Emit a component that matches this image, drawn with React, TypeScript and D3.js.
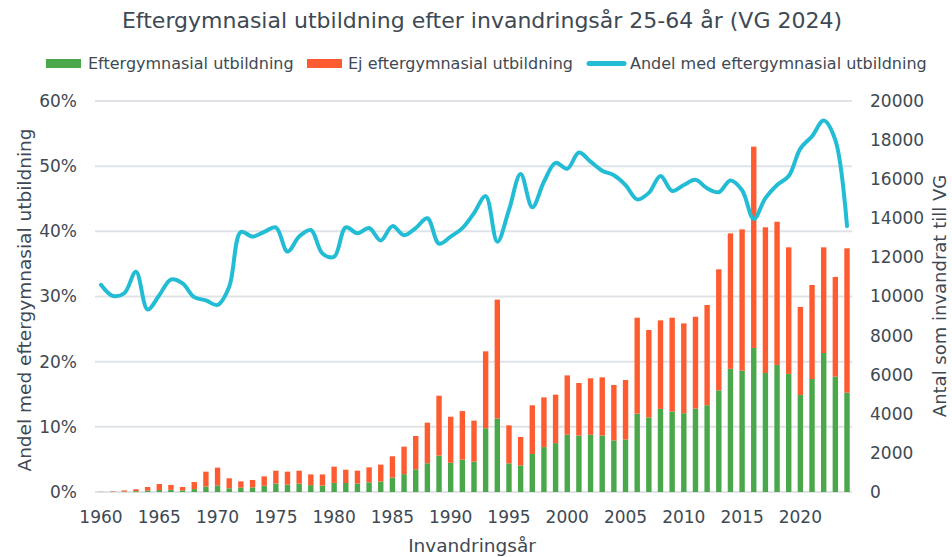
import React, { useEffect, useRef } from "react";
import * as d3 from "d3";

const years = d3.range(1960, 2025);

// antal med eftergymnasial utbildning
const eftergymnasial = [
  3, 9, 24, 45, 70, 100, 110, 80, 150, 280, 340, 190, 220, 235, 320, 435, 375,
  425, 350, 325, 465, 460, 430, 495, 535, 740, 915, 1160, 1470, 1860, 1495,
  1655, 1555, 3260, 3760, 1465, 1360, 1945, 2295, 2500, 2935, 2890, 2930, 2885,
  2640, 2685, 4005, 3815, 4250, 4115, 4030, 4270, 4440, 5200, 6300, 6210, 7370,
  6085, 6500, 6040, 4965, 5780, 7110, 5900, 5080,
];

// antal utan eftergymnasial utbildning
const ejEftergymnasial = [
  7, 21, 56, 95, 185, 310, 250, 175, 360, 760, 905, 510, 325, 380, 480, 655, 665,
  665, 550, 575, 830, 680, 660, 765, 865, 1085, 1405, 1705, 2075, 3065, 2355,
  2485, 2095, 3935, 6080, 1945, 1455, 2490, 2545, 2480, 3030, 2685, 2885, 2980,
  2835, 3045, 4910, 4470, 4530, 4800, 4595, 4695, 5125, 6190, 6930, 7225, 10295,
  7455, 7325, 6475, 4500, 4810, 5405, 5100, 7385,
];

// andel med eftergymnasial utbildning (%)
const andel = [
  31.8, 30.1, 30.5, 33.8, 28.0, 30.2, 32.6, 32.0, 29.9, 29.4, 28.7, 31.5, 39.9,
  39.2, 39.9, 40.6, 36.9, 39.2, 40.2, 36.6, 36.1, 40.6, 39.7, 40.5, 38.6, 40.8,
  39.4, 40.5, 42.0, 38.1, 39.2, 40.5, 42.8, 45.4, 38.4, 43.3, 48.8, 43.7, 47.6,
  50.5, 49.6, 52.1, 50.7, 49.3, 48.6, 47.1, 44.9, 45.9, 48.5, 46.2, 47.1, 47.9,
  46.6, 46.0, 47.8, 46.3, 41.9, 45.1, 47.1, 48.5, 52.7, 54.6, 57.0, 54.0, 40.8,
];

const leftTicks = [0, 0.1, 0.2, 0.3, 0.4, 0.5, 0.6];
const rightTicks = [0, 2000, 4000, 6000, 8000, 10000, 12000, 14000, 16000, 18000, 20000];
const xTicks = [1960, 1965, 1970, 1975, 1980, 1985, 1990, 1995, 2000, 2005, 2010, 2015, 2020];

const GREEN = "#4aa74a";
const ORANGE = "#ff5b31";
const CYAN = "#22bcd5";
const TEXT = "#3e4953";
const GRID = "#dfe3e8";
const FONT = "'DejaVu Sans', Verdana, sans-serif";

const App = () => {
  const svgRef = useRef<SVGSVGElement>(null);

  useEffect(() => {
    const svg = d3.select(svgRef.current);
    svg.selectAll("*").remove();

    const plot = { left: 95, right: 852, top: 101, bottom: 492 };

    const x = d3.scaleLinear().domain([1960, 2024]).range([101, 847]);
    const yLeft = d3.scaleLinear().domain([0, 0.6]).range([plot.bottom, plot.top]);
    const yRight = d3.scaleLinear().domain([0, 20000]).range([plot.bottom, plot.top]);

    // gridlines
    svg
      .append("g")
      .selectAll("line")
      .data(leftTicks)
      .join("line")
      .attr("x1", plot.left)
      .attr("x2", plot.right)
      .attr("y1", (d) => yLeft(d))
      .attr("y2", (d) => yLeft(d))
      .attr("stroke", GRID)
      .attr("stroke-width", 2);

    // stacked bars
    const rows = years.map((yr, i) => ({
      year: yr,
      eft: eftergymnasial[i],
      ej: ejEftergymnasial[i],
    }));
    const stack = d3.stack<any>().keys(["eft", "ej"])(rows);
    const colors = [GREEN, ORANGE];
    const barW = 5.4;

    svg
      .append("g")
      .selectAll("g")
      .data(stack)
      .join("g")
      .attr("fill", (_, i) => colors[i])
      .selectAll("rect")
      .data((s) => s)
      .join("rect")
      .attr("x", (d: any) => x(d.data.year) - barW / 2)
      .attr("y", (d) => yRight(d[1]))
      .attr("width", barW)
      .attr("height", (d) => Math.max(0, yRight(d[0]) - yRight(d[1])));

    // share line
    const line = d3
      .line<number>()
      .x((_, i) => x(years[i]))
      .y((d) => yLeft(d / 100))
      .curve(d3.curveCatmullRom.alpha(0.5));

    svg
      .append("path")
      .datum(andel)
      .attr("d", line)
      .attr("fill", "none")
      .attr("stroke", CYAN)
      .attr("stroke-width", 4)
      .attr("stroke-linejoin", "round")
      .attr("stroke-linecap", "round");

    const txt = (g: any) =>
      g.attr("fill", TEXT).style("font-family", FONT);

    // left axis labels
    svg
      .append("g")
      .selectAll("text")
      .data(leftTicks)
      .join("text")
      .attr("x", 77)
      .attr("y", (d) => yLeft(d))
      .attr("dy", "0.35em")
      .attr("text-anchor", "end")
      .style("font-size", "17px")
      .text((d) => d3.format(".0%")(d))
      .call(txt);

    // right axis labels
    svg
      .append("g")
      .selectAll("text")
      .data(rightTicks)
      .join("text")
      .attr("x", 870)
      .attr("y", (d) => yRight(d))
      .attr("dy", "0.35em")
      .attr("text-anchor", "start")
      .style("font-size", "17px")
      .text((d) => String(d))
      .call(txt);

    // x axis labels
    svg
      .append("g")
      .selectAll("text")
      .data(xTicks)
      .join("text")
      .attr("x", (d) => x(d))
      .attr("y", 523)
      .attr("text-anchor", "middle")
      .style("font-size", "17px")
      .text((d) => String(d))
      .call(txt);

    // title
    svg
      .append("text")
      .attr("x", 482)
      .attr("y", 28)
      .attr("text-anchor", "middle")
      .style("font-size", "22px")
      .text("Eftergymnasial utbildning efter invandringsår 25-64 år (VG 2024)")
      .call(txt);

    // axis titles
    svg
      .append("text")
      .attr("transform", "translate(31, 300) rotate(-90)")
      .attr("text-anchor", "middle")
      .style("font-size", "18.5px")
      .text("Andel med eftergymnasial utbildning")
      .call(txt);

    svg
      .append("text")
      .attr("transform", "translate(946, 296) rotate(-90)")
      .attr("text-anchor", "middle")
      .style("font-size", "18px")
      .text("Antal som invandrat till VG")
      .call(txt);

    svg
      .append("text")
      .attr("x", 472)
      .attr("y", 552)
      .attr("text-anchor", "middle")
      .style("font-size", "18.5px")
      .text("Invandringsår")
      .call(txt);

    // legend
    const legend = svg.append("g").style("font-size", "16px");
    legend.append("rect").attr("x", 46).attr("y", 59).attr("width", 35).attr("height", 9).attr("fill", GREEN);
    legend.append("text").attr("x", 88).attr("y", 69).text("Eftergymnasial utbildning").call(txt);
    legend.append("rect").attr("x", 307).attr("y", 59).attr("width", 35).attr("height", 9).attr("fill", ORANGE);
    legend.append("text").attr("x", 348).attr("y", 69).text("Ej eftergymnasial utbildning").call(txt);
    legend
      .append("line")
      .attr("x1", 589)
      .attr("x2", 624)
      .attr("y1", 63.5)
      .attr("y2", 63.5)
      .attr("stroke", CYAN)
      .attr("stroke-width", 5)
      .attr("stroke-linecap", "round");
    legend.append("text").attr("x", 630).attr("y", 69).text("Andel med eftergymnasial utbildning").call(txt);
  }, []);

  return (
    <svg
      ref={svgRef}
      width={952}
      height={557}
      style={{ position: "absolute", left: 0, top: 0, background: "#fff" }}
    ></svg>
  );
};

export default App;
